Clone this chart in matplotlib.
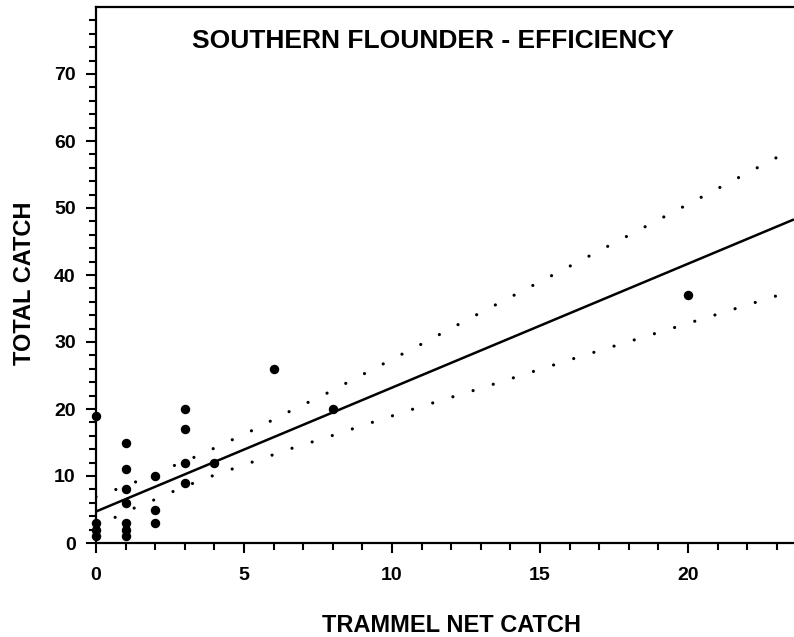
import numpy as np
import matplotlib
matplotlib.use("Agg")
import matplotlib.pyplot as plt
from matplotlib.ticker import MultipleLocator, FixedLocator

# ---- data ----
trammel = [0, 0, 0, 0, 1, 1, 1, 1, 1, 1, 1, 2, 2, 2, 3, 3, 3, 3, 4, 6, 8, 20]
total = [19, 3, 2, 1, 15, 11, 8, 6, 3, 2, 1, 10, 5, 3, 20, 17, 12, 9, 12, 26, 20, 37]

fit_x = [0, 23.58]
fit_y = [4.7, 48.3]

band_x = [0, 0.68, 1.33, 2.0, 2.61, 3.27, 3.92, 5.23, 6.52, 7.82, 9.12, 11.0, 13.0, 16.26, 19.5, 23.58]
band_upper = [6.9, 8.0, 9.1, 10.3, 11.5, 12.7, 14.0, 16.7, 19.6, 22.4, 25.4, 29.7, 34.4, 41.9, 49.4, 58.9]
band_lower = [2.5, 3.9, 5.3, 6.5, 7.7, 8.9, 10.0, 12.0, 14.0, 15.8, 17.7, 20.4, 23.1, 27.7, 32.1, 37.7]

x_major = [0, 5, 10, 15, 20]
y_major = [0, 10, 20, 30, 40, 50, 60, 70]

title = "SOUTHERN FLOUNDER - EFFICIENCY"
xlabel = "TRAMMEL NET CATCH"
ylabel = "TOTAL CATCH"

plt.rcParams['font.family'] = ['Liberation Sans', 'DejaVu Sans']
plt.rcParams['font.weight'] = 'bold'

W, H = 794, 637
fig = plt.figure(figsize=(W / 100, H / 100), dpi=100)
ax = fig.add_axes([96 / W, 94 / H, 1 - 96 / W, 536 / H])

ax.set_xlim(0, 23.58)
ax.set_ylim(0, 80)

# confidence bands (dotted)
for band in (band_upper, band_lower):
    ax.plot(band_x, band, color='black', linewidth=2.3,
            linestyle=(0, (0.01, 6.6)), dash_capstyle='round', clip_on=True)

# regression line
ax.plot(fit_x, fit_y, color='black', linewidth=1.8, solid_capstyle='butt')

# observations
ax.plot(trammel, total, linestyle='none', marker='o', markersize=5.8,
        color='black', clip_on=False, zorder=5)

ax.spines['right'].set_visible(False)
for s in ('left', 'bottom', 'top'):
    ax.spines[s].set_linewidth(1.6)

ax.xaxis.set_major_locator(FixedLocator(x_major))
ax.xaxis.set_minor_locator(MultipleLocator(1))
ax.yaxis.set_major_locator(FixedLocator(y_major))
ax.yaxis.set_minor_locator(FixedLocator(list(range(0, 80, 2))))

ax.tick_params(axis='both', which='major', direction='out', length=7.5, width=1.5,
               labelsize=14)
ax.tick_params(axis='both', which='minor', direction='out', length=5, width=1.5)
ax.tick_params(axis='x', which='major', pad=10)
ax.tick_params(axis='y', which='major', pad=7)
ax.tick_params(top=False, right=False, which='both')
for lab in ax.get_xticklabels() + ax.get_yticklabels():
    lab.set_fontweight('bold')

fig.text(433 / W, (H - 41.5) / H, title, ha='center', va='center',
         fontsize=19, fontweight='bold')
fig.text(451 / W, (H - 625) / H, xlabel, ha='center', va='center',
         fontsize=17, fontweight='bold')
fig.text(25 / W, (H - 283) / H, ylabel, ha='center', va='center',
         rotation=90, fontsize=17, fontweight='bold')

fig.savefig('out.png', dpi=100)
